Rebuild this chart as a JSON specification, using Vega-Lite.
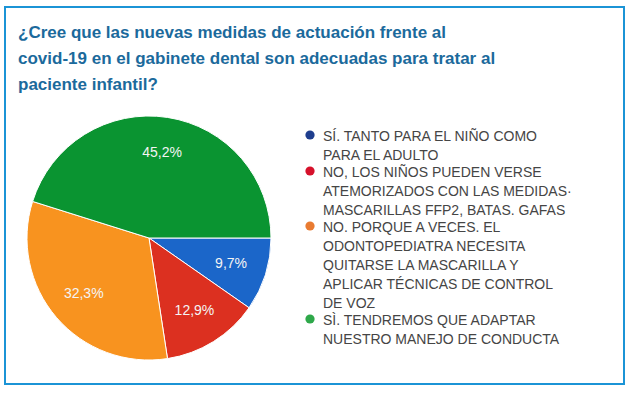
{
  "$schema": "https://vega.github.io/schema/vega-lite/v6.json",
  "autosize": "none",
  "width": 619,
  "height": 377,
  "padding": {"left": 5, "top": 7, "right": 13, "bottom": 11},
  "background": "white",
  "view": {"stroke": "#1b94d6", "strokeWidth": 2},
  "title": {
    "text": ["¿Cree que las nuevas medidas de actuación frente al", "covid-19 en el gabinete dental son adecuadas para tratar al", "paciente infantil?"],
    "anchor": "start",
    "frame": "group",
    "orient": "top",
    "baseline": "top",
    "offset": 0,
    "dx": 13,
    "dy": 87,
    "font": "Liberation Sans",
    "fontSize": 17,
    "fontWeight": "bold",
    "color": "#1b6a9c",
    "lineHeight": 26
  },
  "data": {
    "values": [
      {"categoria": "SÍ. TANTO PARA EL NIÑO COMO|PARA EL ADULTO", "porcentaje": 9.7, "etiqueta": "9,7%", "orden": 1},
      {"categoria": "NO, LOS NIÑOS PUEDEN VERSE|ATEMORIZADOS CON LAS MEDIDAS·|MASCARILLAS FFP2, BATAS. GAFAS", "porcentaje": 12.9, "etiqueta": "12,9%", "orden": 2},
      {"categoria": "NO. PORQUE A VECES. EL|ODONTOPEDIATRA NECESITA|QUITARSE LA MASCARILLA Y|APLICAR TÉCNICAS DE CONTROL|DE VOZ", "porcentaje": 32.3, "etiqueta": "32,3%", "orden": 3},
      {"categoria": "SÌ. TENDREMOS QUE ADAPTAR|NUESTRO MANEJO DE CONDUCTA", "porcentaje": 45.2, "etiqueta": "45,2%", "orden": 4}
    ]
  },
  "encoding": {
    "theta": {"field": "porcentaje", "type": "quantitative", "stack": true, "scale": {"range": [1.5708, 7.854]}},
    "order": {"field": "orden", "type": "quantitative"}
  },
  "layer": [
    {
      "mark": {"type": "arc", "outerRadius": 122, "stroke": "white", "strokeWidth": 1, "x": 144, "y": 231},
      "encoding": {
        "color": {
          "field": "categoria",
          "type": "nominal",
          "sort": {"field": "orden"},
          "scale": {"range": ["#1b66c9", "#dc3020", "#f8931f", "#0a9431"]},
          "legend": null
        }
      }
    },
    {
      "mark": {"type": "text", "radius": 86, "x": 144, "y": 231, "font": "Liberation Sans", "fontSize": 14, "fill": "#f4f4f4"},
      "encoding": {"text": {"field": "etiqueta", "type": "nominal"}}
    },
    {
      "mark": {"type": "text", "text": "", "x": 144, "y": 231},
      "encoding": {
        "color": {
          "field": "categoria",
          "type": "nominal",
          "sort": {"field": "orden"},
          "scale": {"range": ["#1e3e8e", "#d6112b", "#e97b31", "#2ea84a"]},
          "legend": {
            "title": null,
            "orient": "none",
            "legendX": 298,
            "legendY": 121,
            "symbolType": "circle",
            "symbolSize": 85,
            "symbolStrokeWidth": 0,
            "labelFont": "Liberation Sans",
            "labelFontSize": 14,
            "labelColor": "#454545",
            "labelOffset": 6,
            "labelLimit": 400,
            "rowPadding": -2,
            "labelExpr": "split(datum.label, '|')",
            "labelBaseline": "top"
          }
        }
      }
    }
  ],
  "resolve": {"scale": {"color": "independent"}, "legend": {"color": "independent"}},
  "config": {
    "style": {"guide-label": {"lineHeight": 19.1, "dy": -5}}
  }
}
